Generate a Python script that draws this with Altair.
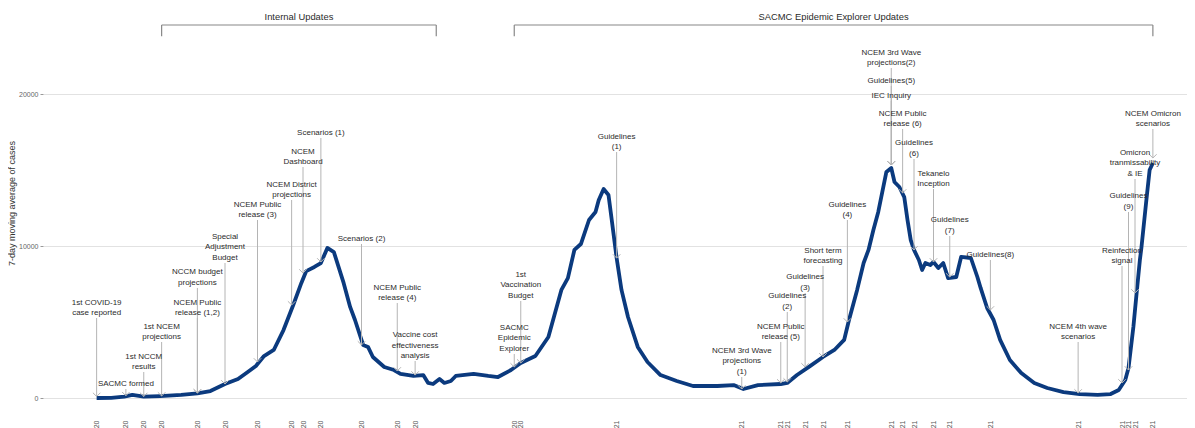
import altair as alt
import pandas as pd

# ---- epidemic curve (7-day moving average of cases) ----
series_dates = [
    "2020-03-05", "2020-03-14", "2020-03-22", "2020-03-27", "2020-04-03", "2020-04-13", "2020-04-26",
    "2020-05-06", "2020-05-14", "2020-05-23", "2020-05-31", "2020-06-06", "2020-06-11", "2020-06-16",
    "2020-06-22", "2020-06-28", "2020-07-04", "2020-07-09", "2020-07-12", "2020-07-17", "2020-07-21",
    "2020-07-25", "2020-07-29", "2020-08-04", "2020-08-08", "2020-08-11", "2020-08-16", "2020-08-19",
    "2020-08-22", "2020-08-29", "2020-09-04", "2020-09-08", "2020-09-16", "2020-09-22", "2020-09-25",
    "2020-09-28", "2020-10-02", "2020-10-05", "2020-10-09", "2020-10-12", "2020-10-23", "2020-11-01",
    "2020-11-07", "2020-11-15", "2020-11-21", "2020-11-30", "2020-12-08", "2020-12-16", "2020-12-20",
    "2020-12-24", "2020-12-28", "2021-01-02", "2021-01-06", "2021-01-08", "2021-01-11", "2021-01-14",
    "2021-01-16", "2021-01-19", "2021-01-22", "2021-01-26", "2021-02-01", "2021-02-07", "2021-02-15",
    "2021-02-25", "2021-03-07", "2021-03-22", "2021-04-01", "2021-04-07", "2021-04-16", "2021-04-30",
    "2021-05-04", "2021-05-10", "2021-05-18", "2021-05-26", "2021-06-02", "2021-06-08", "2021-06-11",
    "2021-06-16", "2021-06-20", "2021-06-23", "2021-06-26", "2021-06-29", "2021-07-02", "2021-07-04",
    "2021-07-07", "2021-07-09", "2021-07-12", "2021-07-15", "2021-07-17", "2021-07-19", "2021-07-21",
    "2021-07-24", "2021-07-26", "2021-07-28", "2021-07-31", "2021-08-02", "2021-08-05", "2021-08-08",
    "2021-08-11", "2021-08-16", "2021-08-19", "2021-08-25", "2021-08-29", "2021-08-31", "2021-09-04",
    "2021-09-08", "2021-09-12", "2021-09-18", "2021-09-25", "2021-10-03", "2021-10-11", "2021-10-21",
    "2021-10-31", "2021-11-11", "2021-11-19", "2021-11-24", "2021-11-28", "2021-11-30", "2021-12-03",
    "2021-12-05", "2021-12-07", "2021-12-08", "2021-12-11", "2021-12-13", "2021-12-15",
]
series_values = [
    0, 10, 85, 200, 90, 130, 200,
    310, 460, 920, 1250, 1710, 2105, 2760,
    3160, 4470, 6120, 7570, 8350, 8620, 8880,
    9870, 9600, 7570, 5990, 5130, 3490, 3360,
    2700, 2040, 1840, 1580, 1450, 1510, 990,
    920, 1250, 990, 1120, 1450, 1580, 1450,
    1380, 1840, 2300, 2760, 4010, 7110, 7890,
    9740, 10130, 11710, 12240, 13030, 13750, 13360,
    11710, 9210, 7110, 5330, 3360, 2370, 1510,
    1120, 790, 790, 850, 590, 850, 920,
    990, 1510, 2100, 2700, 3160, 3820, 5130,
    7110, 8880, 9740, 11050, 12240, 13820, 14870,
    15130, 14210, 13880, 13220, 11710, 10390, 9740,
    9080, 8420, 8880, 8750, 8950, 8550, 8880,
    7890, 7960, 9280, 9210, 7960, 7240, 5920,
    5130, 3820, 2500, 1640, 990, 660, 390,
    260, 200, 260, 530, 1180, 1970, 4670,
    6910, 9080, 9930, 13030, 15000, 15460,
]

# ---- annotations ----
ann_dates = [
    "2020-03-05", "2020-03-23", "2020-04-03", "2020-04-14", "2020-05-06", "2020-05-06",
    "2020-05-23", "2020-06-12", "2020-07-03", "2020-07-10", "2020-07-21", "2020-08-15",
    "2020-09-06", "2020-09-17", "2020-11-17", "2020-11-21", "2021-01-19", "2021-04-06",
    "2021-04-30", "2021-05-04", "2021-05-15", "2021-05-26", "2021-06-10", "2021-07-07",
    "2021-07-07", "2021-07-07", "2021-07-14", "2021-07-21", "2021-08-02", "2021-08-12",
    "2021-09-06", "2021-10-30", "2021-11-26", "2021-11-30", "2021-12-04", "2021-12-15",
]
ann_labels = [
    "1st COVID-19\ncase reported", "SACMC formed", "1st NCCM\nresults", "1st NCEM\nprojections",
    "NCEM Public\nrelease (1,2)", "NCCM budget\nprojections",
    "Special\nAdjustment\nBudget", "NCEM Public\nrelease (3)", "NCEM District\nprojections",
    "NCEM\nDashboard", "Scenarios (1)", "Scenarios (2)",
    "NCEM Public\nrelease (4)", "Vaccine cost\neffectiveness\nanalysis", "SACMC\nEpidemic\nExplorer",
    "1st\nVaccination\nBudget", "Guidelines\n(1)", "NCEM 3rd Wave\nprojections\n(1)",
    "NCEM Public\nrelease (5)", "Guidelines\n(2)", "Guidelines\n(3)", "Short term\nforecasting",
    "Guidelines\n(4)", "NCEM 3rd Wave\nprojections(2)",
    "Guidelines(5)", "IEC Inquiry", "NCEM Public\nrelease (6)", "Guidelines\n(6)",
    "Tekanelo\nInception", "Guidelines\n(7)",
    "Guidelines(8)", "NCEM 4th wave\nscenarios", "Reinfection\nsignal", "Guidelines\n(9)",
    "Omicron\ntranmissability\n& IE", "NCEM Omicron\nscenarios",
]
ann_top = [
    5263, 592, 1710, 3684, 5263, 7237,
    8882, 11710, 13026, 15197, 17105, 10132,
    6250, 2434, 2895, 6382, 16184, 1382,
    3684, 5658, 6908, 8684, 11710, 21710,
    20526, 19540, 17697, 15724, 13750, 10658,
    9079, 3684, 8684, 12237, 14408, 17697,
]
ann_tip = [
    100, 150, 100, 130, 330, 330,
    920, 2370, 6120, 8220, 8950, 3490,
    1780, 1510, 2040, 2300, 9210, 590,
    990, 1050, 2040, 2700, 5000, 15330,
    15330, 15330, 13490, 9740, 8950, 7960,
    5790, 330, 990, 1840, 6910, 15790,
]

# ---- period brackets ----
bracket_titles = ["Internal Updates", "SACMC Epidemic Explorer Updates"]
bracket_start = ["2020-04-14", "2020-11-17"]
bracket_end = ["2020-09-30", "2021-12-15"]
BRACKET_LEVEL = 24540
BRACKET_FOOT = 23800
BRACKET_TEXT = 24760

Y_MAX = 25658
PLOT_W = 1144
PLOT_H = 390
LINE_PX = 10.5
FONT = "Liberation Sans"
LINE_COLOR = "#0b3a7e"
ANN_COLOR = "#b4b4b4"

series = pd.DataFrame({"date": series_dates, "cases": series_values})
ann = pd.DataFrame({"date": ann_dates, "label": ann_labels, "top": ann_top, "tip": ann_tip})
# multi-line labels: shift the anchor so the last line ends at the start of the pointer line
ann["text_y"] = ann["top"] + ann["label"].str.count("\n") * LINE_PX * Y_MAX / PLOT_H

br = pd.DataFrame({"title": bracket_titles, "start": bracket_start, "end": bracket_end})
br["level"] = BRACKET_LEVEL
br["textlevel"] = BRACKET_TEXT
s = pd.to_datetime(br["start"])
e = pd.to_datetime(br["end"])
br["mid"] = (s + (e - s) / 2).dt.strftime("%Y-%m-%dT%H:%M:%S")
ends = pd.DataFrame({"date": list(br["start"]) + list(br["end"])})
ends["level"] = BRACKET_LEVEL
ends["foot"] = BRACKET_FOOT


def dt(s):
    y, m, d = [int(v) for v in s.split("-")]
    return alt.DateTime(year=y, month=m, date=d, utc=True)


tick_dates = sorted(set(ann_dates))

x_scale = alt.Scale(domain=[dt("2020-02-01"), dt("2022-01-05")], nice=False)
y_scale = alt.Scale(domain=[0, Y_MAX], nice=False, zero=True)

x_axis = alt.Axis(
    values=[dt(d) for d in tick_dates], format="%d-%m-%Y", labelAngle=-90,
    grid=False, domain=False, ticks=False, labelPadding=22, labelFontSize=7,
    labelColor="#555555", labelFont=FONT, labelOverlap=False, labelFlush=False,
    title=None,
)
y_axis = alt.Axis(
    values=[0, 10000, 20000], format="d", grid=True, gridColor="#e2e2e2", gridWidth=1,
    domain=False, ticks=True, tickColor="#999999", tickSize=3, labelPadding=2,
    labelFontSize=7, labelColor="#666666", labelFont=FONT,
    title="7-day moving average of cases", titleFont=FONT, titleFontSize=9,
    titleFontWeight="normal", titleColor="#333333", titlePadding=2,
)


def X(field):
    return alt.X(field, type="temporal", scale=x_scale, axis=x_axis)


def Y(field):
    return alt.Y(field, type="quantitative", scale=y_scale, axis=y_axis)


line = alt.Chart(series).mark_line(color=LINE_COLOR, strokeWidth=3.8, strokeJoin="round").encode(
    x=X("date"), y=Y("cases")
)

rules = alt.Chart(ann).mark_rule(color=ANN_COLOR, strokeWidth=1).encode(
    x=X("date"), y=Y("top"), y2="tip:Q"
)

arrows = alt.Chart(ann).mark_point(
    shape="M-1,-1L0,0L1,-1", filled=False, size=56, color=ANN_COLOR, strokeWidth=1, opacity=1
).encode(x=X("date"), y=Y("tip"))

labels = alt.Chart(ann).mark_text(
    align="center", baseline="bottom", lineBreak="\n", fontSize=8, font=FONT,
    color="#2b2b2b", lineHeight=LINE_PX, dy=-1,
).encode(x=X("date"), y=Y("text_y"), text="label:N")

br_h = alt.Chart(br).mark_rule(color="#888888", strokeWidth=1.2).encode(
    x=X("start"), x2="end:T", y=Y("level")
)
br_v = alt.Chart(ends).mark_rule(color="#888888", strokeWidth=1.2).encode(
    x=X("date"), y=Y("level"), y2="foot:Q"
)
br_t = alt.Chart(br).mark_text(
    align="center", baseline="bottom", fontSize=9.4, font=FONT, color="#2b2b2b"
).encode(x=X("mid"), y=Y("textlevel"), text="title:N")

chart = alt.layer(line, rules, arrows, labels, br_h, br_v, br_t).properties(
    width=PLOT_W, height=PLOT_H,
    autosize=alt.AutoSizeParams(type="none"),
    padding={"left": 35, "top": 0, "right": 0, "bottom": 60},
    background="white",
).configure_view(stroke=None)

chart.save("out.html", embed_options={"renderer": "svg", "actions": False})
